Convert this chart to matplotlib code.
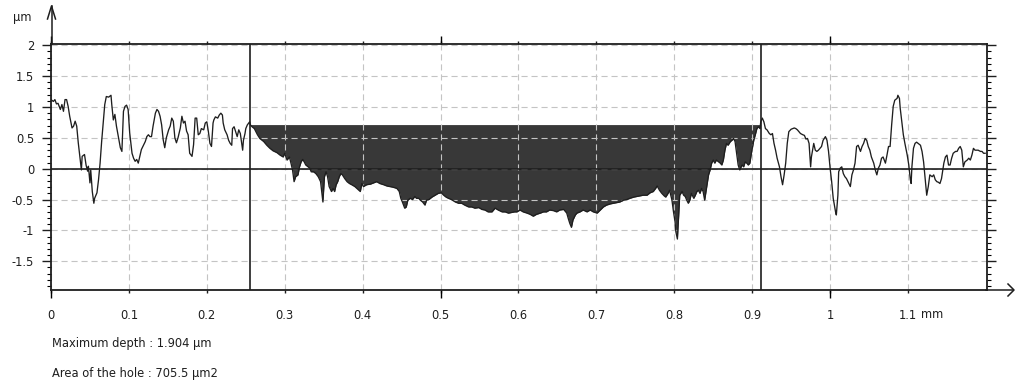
#surface profile with hole area plot

import numpy as np
from matplotlib import pyplot as plt
from matplotlib.lines import Line2D
from matplotlib.ticker import MultipleLocator

plt.rcParams['font.family'] = ['DejaVu Sans']
plt.rcParams['axes.unicode_minus'] = False

# profile, in mm (x) and um (z), one block per stretch
x_seg1 = [0.000, 0.003, 0.005, 0.007, 0.009, 0.012, 0.014, 0.016, 0.018, 0.020,
          0.022, 0.024, 0.027, 0.029, 0.031, 0.033, 0.035, 0.037, 0.039, 0.040,
          0.043, 0.045, 0.047, 0.048, 0.050, 0.051, 0.053, 0.055, 0.056, 0.059,
          0.061, 0.063, 0.065, 0.067, 0.069, 0.071, 0.074, 0.077, 0.078, 0.080,
          0.082, 0.084, 0.086, 0.089, 0.091, 0.093, 0.095, 0.097, 0.099, 0.101,
          0.104, 0.106, 0.108, 0.110, 0.112, 0.114, 0.116, 0.119, 0.121, 0.123,
          0.125, 0.127, 0.129, 0.131, 0.134, 0.136, 0.138, 0.140, 0.142, 0.144,
          0.146, 0.148, 0.151, 0.153, 0.155, 0.157, 0.159, 0.161, 0.163, 0.166,
          0.168, 0.170, 0.172, 0.174, 0.176, 0.178, 0.181, 0.183, 0.185, 0.187,
          0.189]
z_seg1 = [1.12, 1.09, 1.12, 1.05, 1.06, 0.96, 1.04, 0.93, 1.12, 1.12,
          1.01, 0.85, 0.66, 0.69, 0.77, 0.69, 0.42, 0.20, -0.02, 0.20,
          0.23, 0.06, -0.04, 0.04, -0.23, -0.02, -0.37, -0.56, -0.48, -0.39,
          -0.18, 0.09, 0.44, 0.74, 1.04, 1.17, 1.16, 1.19, 1.04, 0.79,
          0.88, 0.69, 0.55, 0.34, 0.28, 0.93, 1.01, 1.03, 0.96, 0.58,
          0.25, 0.17, 0.12, 0.15, 0.09, 0.20, 0.31, 0.39, 0.44, 0.52,
          0.55, 0.52, 0.52, 0.69, 0.90, 0.96, 0.93, 0.85, 0.71, 0.47,
          0.34, 0.50, 0.63, 0.69, 0.82, 0.77, 0.50, 0.42, 0.50, 0.66,
          0.85, 0.74, 0.77, 0.61, 0.55, 0.25, 0.20, 0.39, 0.82, 0.82,
          0.55]

x_seg2 = [0.191, 0.193, 0.196, 0.198, 0.200, 0.202, 0.204, 0.206,
          0.208, 0.209, 0.211, 0.214, 0.216, 0.218, 0.220, 0.221,
          0.223, 0.226, 0.228, 0.230, 0.232, 0.233, 0.235, 0.237,
          0.239, 0.241, 0.243, 0.246, 0.247, 0.249, 0.250, 0.252,
          0.255, 0.256, 0.258, 0.261, 0.263, 0.265, 0.268, 0.273,
          0.277, 0.281, 0.285, 0.290, 0.294, 0.298, 0.300, 0.303,
          0.306, 0.308, 0.310, 0.312, 0.314, 0.317, 0.319, 0.321,
          0.323, 0.325, 0.327, 0.330, 0.332, 0.334, 0.337, 0.340,
          0.343, 0.346, 0.349, 0.351, 0.353, 0.355, 0.357, 0.360,
          0.362, 0.364, 0.366, 0.368, 0.370, 0.372, 0.374, 0.377,
          0.380, 0.383, 0.386, 0.390]
z_seg2 = [0.57, 0.65, 0.63, 0.74, 0.76, 0.60, 0.41, 0.36,
          0.74, 0.79, 0.84, 0.82, 0.87, 0.90, 0.87, 0.74,
          0.63, 0.55, 0.46, 0.41, 0.38, 0.65, 0.68, 0.60,
          0.52, 0.63, 0.57, 0.30, 0.46, 0.57, 0.65, 0.71,
          0.76, 0.71, 0.68, 0.65, 0.60, 0.55, 0.49, 0.44,
          0.38, 0.33, 0.29, 0.26, 0.22, 0.19, 0.25, 0.14,
          0.19, 0.09, -0.02, -0.21, -0.13, -0.10, 0.03, 0.11,
          0.15, 0.11, 0.06, 0.03, 0.01, -0.05, -0.05, -0.08,
          -0.13, -0.21, -0.54, -0.13, -0.05, -0.13, -0.29, -0.37,
          -0.32, -0.37, -0.26, -0.21, -0.13, -0.08, -0.10, -0.16,
          -0.21, -0.24, -0.26, -0.29]

x_seg3 = [0.397, 0.399, 0.401, 0.405, 0.410, 0.414, 0.418, 0.422,
          0.427, 0.431, 0.435, 0.439, 0.444, 0.447, 0.449, 0.451,
          0.454, 0.456, 0.458, 0.461, 0.464, 0.467, 0.469, 0.472,
          0.474, 0.477, 0.480, 0.482, 0.485, 0.489, 0.493, 0.497,
          0.501, 0.504, 0.507, 0.510, 0.514, 0.519, 0.523, 0.527,
          0.531, 0.536, 0.540, 0.544, 0.549, 0.553, 0.557, 0.561,
          0.566, 0.570, 0.574, 0.579, 0.583, 0.587, 0.591, 0.595]
z_seg3 = [-0.37, -0.24, -0.29, -0.26, -0.25, -0.23, -0.21, -0.24,
          -0.26, -0.28, -0.29, -0.30, -0.32, -0.37, -0.48, -0.54,
          -0.64, -0.62, -0.51, -0.48, -0.50, -0.45, -0.48, -0.48,
          -0.51, -0.54, -0.59, -0.51, -0.50, -0.46, -0.43, -0.40,
          -0.39, -0.43, -0.46, -0.48, -0.50, -0.54, -0.56, -0.56,
          -0.59, -0.62, -0.62, -0.64, -0.63, -0.66, -0.67, -0.70,
          -0.70, -0.64, -0.67, -0.70, -0.70, -0.72, -0.71, -0.70]

x_seg4 = [0.598, 0.602, 0.606, 0.611, 0.615, 0.619, 0.623, 0.628,
          0.632, 0.636, 0.640, 0.645, 0.649, 0.653, 0.658, 0.662,
          0.664, 0.666, 0.668, 0.670, 0.673, 0.675, 0.679, 0.683,
          0.688, 0.692, 0.696, 0.701, 0.705, 0.709, 0.713, 0.718,
          0.722, 0.726, 0.730, 0.735, 0.739, 0.743, 0.748, 0.752,
          0.756, 0.760, 0.765, 0.769, 0.773, 0.776, 0.778, 0.781,
          0.784, 0.787, 0.789, 0.792, 0.794]
z_seg4 = [-0.70, -0.67, -0.70, -0.72, -0.74, -0.77, -0.74, -0.72,
          -0.70, -0.70, -0.67, -0.68, -0.70, -0.67, -0.66, -0.72,
          -0.81, -0.89, -0.95, -0.83, -0.75, -0.72, -0.70, -0.67,
          -0.70, -0.67, -0.70, -0.72, -0.67, -0.62, -0.59, -0.57,
          -0.56, -0.55, -0.54, -0.51, -0.50, -0.48, -0.46, -0.45,
          -0.44, -0.43, -0.43, -0.39, -0.37, -0.32, -0.28, -0.35,
          -0.40, -0.44, -0.46, -0.40, -0.35]

x_seg5 = [0.797, 0.799, 0.801, 0.802, 0.804, 0.805, 0.806, 0.807,
          0.810, 0.812, 0.814, 0.816, 0.818, 0.820, 0.822, 0.825,
          0.827, 0.829, 0.831, 0.833, 0.835, 0.837, 0.839, 0.842,
          0.844, 0.846, 0.848, 0.850, 0.852, 0.854, 0.857, 0.859,
          0.861, 0.863, 0.865, 0.867, 0.869, 0.872, 0.874, 0.876,
          0.878, 0.880, 0.882, 0.884, 0.887, 0.889, 0.891, 0.893,
          0.895, 0.897, 0.899, 0.902, 0.904, 0.906, 0.908, 0.910,
          0.911, 0.913, 0.915, 0.917, 0.919, 0.922, 0.924, 0.926,
          0.928, 0.930, 0.932, 0.935, 0.937, 0.939, 0.941, 0.943,
          0.945, 0.947, 0.950, 0.952, 0.954, 0.956, 0.958, 0.960,
          0.962, 0.965, 0.967, 0.969, 0.971, 0.973, 0.975, 0.976,
          0.979, 0.981, 0.983, 0.985, 0.987, 0.989, 0.991, 0.994]
z_seg5 = [-0.51, -0.70, -0.86, -1.02, -1.14, -0.91, -0.70, -0.43,
          -0.37, -0.43, -0.45, -0.51, -0.56, -0.51, -0.40, -0.48,
          -0.43, -0.37, -0.35, -0.40, -0.32, -0.37, -0.51, -0.26,
          -0.10, -0.02, 0.09, 0.14, 0.09, 0.14, 0.11, 0.09,
          0.06, 0.14, 0.30, 0.41, 0.38, 0.44, 0.46, 0.49,
          0.44, 0.25, 0.06, -0.02, 0.06, 0.03, 0.11, 0.09,
          0.06, 0.09, 0.25, 0.46, 0.55, 0.65, 0.68, 0.65,
          0.76, 0.82, 0.76, 0.65, 0.63, 0.57, 0.55, 0.57,
          0.41, 0.30, 0.17, 0.03, -0.13, -0.26, -0.10, 0.09,
          0.41, 0.60, 0.64, 0.65, 0.66, 0.65, 0.63, 0.60,
          0.57, 0.55, 0.54, 0.48, 0.49, 0.41, 0.03, 0.19,
          0.41, 0.30, 0.28, 0.30, 0.33, 0.36, 0.46, 0.52]

x_seg6 = [0.996, 0.998, 1.000, 1.002, 1.004, 1.007, 1.008, 1.010,
          1.011, 1.013, 1.015, 1.017, 1.019, 1.021, 1.024, 1.026,
          1.028, 1.030, 1.032, 1.034, 1.036, 1.039, 1.041, 1.043,
          1.045, 1.047, 1.049, 1.051, 1.053, 1.056, 1.058, 1.060,
          1.062, 1.064, 1.066, 1.068, 1.071, 1.073, 1.075, 1.077,
          1.079, 1.081, 1.083, 1.086, 1.087, 1.089, 1.090, 1.092,
          1.094, 1.096, 1.099, 1.101, 1.103, 1.104, 1.105, 1.107,
          1.109, 1.111, 1.113, 1.116, 1.118, 1.120, 1.122, 1.124,
          1.126, 1.128, 1.131, 1.133, 1.135, 1.137, 1.139, 1.141,
          1.143, 1.146, 1.148, 1.150, 1.152, 1.154, 1.156, 1.158,
          1.161, 1.163, 1.165, 1.167, 1.169, 1.171, 1.173, 1.176,
          1.178, 1.180, 1.182, 1.184, 1.186, 1.188, 1.190, 1.193,
          1.195, 1.197, 1.199]
z_seg6 = [0.46, 0.28, 0.01, -0.21, -0.48, -0.70, -0.75, -0.43,
          -0.05, 0.01, 0.03, -0.08, -0.13, -0.16, -0.24, -0.29,
          -0.10, -0.02, 0.09, 0.36, 0.38, 0.28, 0.36, 0.41,
          0.49, 0.46, 0.36, 0.30, 0.19, 0.09, -0.02, -0.10,
          0.01, 0.06, 0.17, 0.19, 0.09, 0.22, 0.36, 0.36,
          0.71, 1.01, 1.11, 1.14, 1.19, 1.14, 0.98, 0.76,
          0.55, 0.41, 0.22, 0.06, -0.18, -0.24, 0.03, 0.33,
          0.41, 0.43, 0.41, 0.38, 0.28, 0.11, -0.16, -0.43,
          -0.29, -0.10, -0.13, -0.10, -0.18, -0.21, -0.22, -0.24,
          -0.16, 0.09, 0.19, 0.22, 0.06, 0.06, 0.17, 0.25,
          0.28, 0.28, 0.33, 0.36, 0.30, 0.03, 0.11, 0.14,
          0.17, 0.14, 0.22, 0.33, 0.30, 0.30, 0.30, 0.28,
          0.28, 0.25, 0.25]

hole_x0 = 0.255   # mm, left cursor
hole_x1 = 0.911   # mm, right cursor
hole_level = 0.715  # um, top of the hole

x_ticks = [0, 0.1, 0.2, 0.3, 0.4, 0.5, 0.6, 0.7, 0.8, 0.9, 1.0, 1.1]
x_tick_labels = ['0', '0.1', '0.2', '0.3', '0.4', '0.5', '0.6', '0.7', '0.8', '0.9', '1', '1.1']
y_ticks = [-1.5, -1, -0.5, 0, 0.5, 1, 1.5, 2]
y_tick_labels = ['-1.5', '-1', '-0.5', '0', '0.5', '1', '1.5', '2']

max_depth_text = 'Maximum depth : 1.904 µm'
area_text = 'Area of the hole : 705.5 µm2'

x = np.array(x_seg1 + x_seg2 + x_seg3 + x_seg4 + x_seg5 + x_seg6)
z = np.array(z_seg1 + z_seg2 + z_seg3 + z_seg4 + z_seg5 + z_seg6)

W, H = 1015, 383
ink = '#1e1e1e'
fs = 8.3

def px(xp, yp):  # pixel position -> figure fraction
    return xp / W, 1 - yp / H

fig = plt.figure(figsize=(W / 100, H / 100), dpi=100)
ax = fig.add_axes([51 / W, 93 / H, 935.7 / W, 246 / H])

inhole = (x >= hole_x0) & (x <= hole_x1)
ax.fill_between(x, np.minimum(z, hole_level), hole_level, where=inhole,
                color='#383838', lw=0, zorder=1)
ax.plot(x, z, color=ink, lw=0.95, zorder=3)
ax.axhline(0, color=ink, lw=1.2, zorder=3)
ax.axvline(hole_x0, color=ink, lw=1.2, zorder=3)
ax.axvline(hole_x1, color=ink, lw=1.2, zorder=3)

ax.set_xlim(0, 1.201)
ax.set_ylim(-1.966, 2.021)

ax.set_xticks(x_ticks)
ax.set_xticklabels(x_tick_labels)
ax.set_xticks([0, 0.5, 1.0], minor=True)
ax.xaxis.remove_overlapping_locs = False
ax.set_yticks(y_ticks)
ax.set_yticklabels(y_tick_labels)
ax.yaxis.set_minor_locator(MultipleLocator(0.1))

ax.tick_params(axis='x', which='major', direction='out', length=2.5, width=1,
               top=True, bottom=True, labelsize=fs, pad=11, colors=ink)
ax.tick_params(axis='x', which='minor', direction='out', length=6, width=1,
               top=True, bottom=True)
ax.tick_params(axis='y', which='major', direction='out', length=6.5, width=1,
               left=True, right=True, labelsize=fs, pad=5.5, colors=ink)
ax.tick_params(axis='y', which='minor', direction='out', length=3, width=0.8,
               left=True, right=True)

ax.grid(True, which='major', color='#c4c4c4', lw=0.8, linestyle=(0, (5.5, 3.5)))
ax.set_axisbelow('line')
for s in ax.spines.values():
    s.set_color(ink)
    s.set_linewidth(1.3)

ax.annotate('mm', xy=(1.1, 0), xycoords=('data', 'axes fraction'),
            xytext=(9.5, -13.3), textcoords='offset points',
            fontsize=fs, color=ink, va='top', ha='left')

# axis arrows
for xs, ys in [((51.5, 51.5), (44, 6)), ((47.5, 51.5, 55.5), (19, 6, 19)),
               ((986, 1013), (290, 290)), ((1008, 1014, 1008), (284, 290, 296))]:
    pts = [px(a, b) for a, b in zip(xs, ys)]
    fig.add_artist(Line2D([p[0] for p in pts], [p[1] for p in pts],
                          transform=fig.transFigure, color=ink, lw=1.1))

fig.text(*px(13, 17), 'µm', fontsize=fs, color=ink, va='center', ha='left')
fig.text(*px(52, 344), max_depth_text, fontsize=fs, color=ink, va='center', ha='left')
fig.text(*px(52, 373), area_text, fontsize=fs, color=ink, va='center', ha='left')

fig.savefig('out.png', dpi=100)
